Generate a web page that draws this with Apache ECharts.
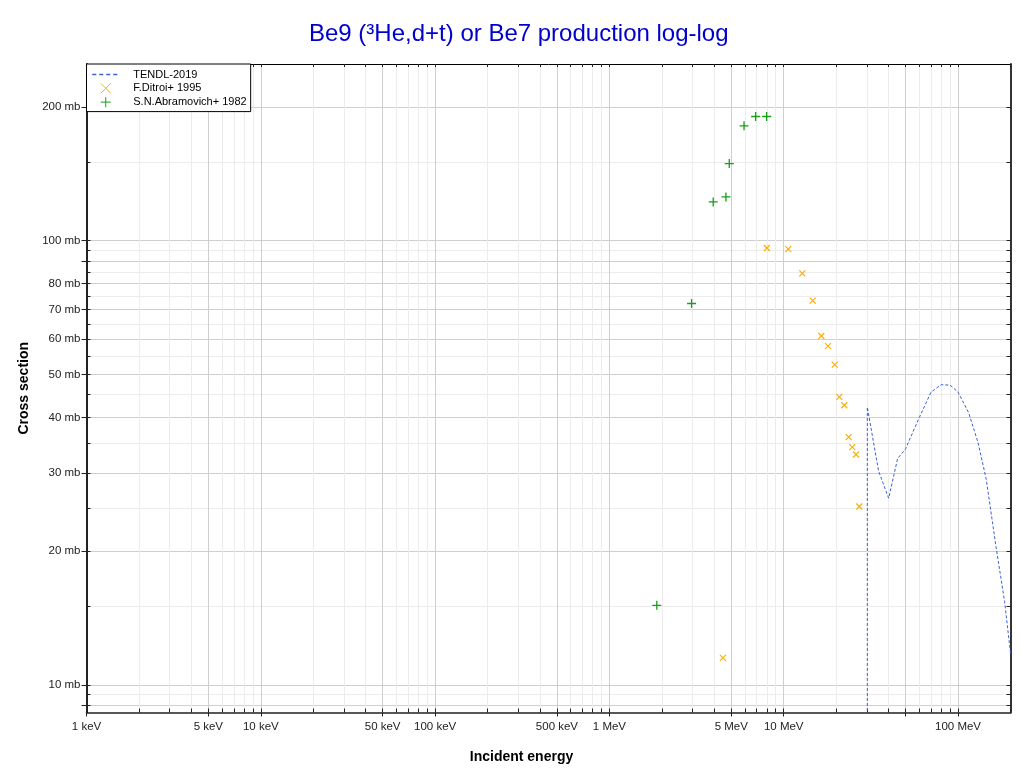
<!DOCTYPE html>
<html><head><meta charset="utf-8">
<script src="https://cdn.jsdelivr.net/npm/echarts@6/dist/echarts.min.js"></script>
<style>html,body{margin:0;padding:0;background:#fff}#c{width:1022px;height:773px}</style>
</head><body><div id="c"></div>
<script>
// ---- data (energy in MeV, cross section in mb) ----
const tendlEnergy = [30.17, 30.17, 35, 40, 45, 50, 60, 70, 80, 90, 100, 115, 130, 145, 165, 185, 200];
const tendlXs     = [0.001, 42.2, 30.3, 26.3, 32.3, 34.0, 40.0, 45.6, 47.4, 47.3, 45.6, 41.0, 35.2, 29.1, 20.5, 15.4, 11.8];

const ditroiEnergy = [4.48, 8.01, 10.62, 12.78, 14.66, 16.43, 17.95, 19.61, 20.84, 22.26, 23.59, 24.74, 25.98, 27.15];
const ditroiXs     = [11.5, 96.3, 95.7, 84.4, 73.3, 61.0, 57.9, 52.6, 44.5, 42.6, 36.1, 34.3, 33.0, 25.2];

const abramEnergy = [1.87, 2.96, 3.94, 4.66, 4.87, 5.92, 6.90, 7.98];
const abramXs     = [15.1, 72.2, 122.3, 125.5, 149.2, 181.4, 190.4, 190.4];

// ---- axis ticks ----
const xMajorTicks = [0.001, 0.005, 0.01, 0.05, 0.1, 0.5, 1, 5, 10, 50, 100];
const xLabelTicks = [0.001, 0.005, 0.01, 0.05, 0.1, 0.5, 1, 5, 10, 100];
const xAllTicks = [];
for (let d = -3; d <= 2; d++) {
  for (let m = 1; m <= 9; m++) {
    const v = parseFloat((m * Math.pow(10, d)).toPrecision(6));
    if (v <= 200) xAllTicks.push(v);
  }
}
const yMajorTicks = [9, 10, 20, 30, 40, 50, 60, 70, 80, 90, 100, 200];
const yLabelTicks = [10, 20, 30, 40, 50, 60, 70, 80, 100, 200];
const yMinorTicks = [9.5, 15, 25, 35, 45, 55, 65, 75, 85, 95, 150];
const yAllTicks = yMajorTicks.concat(yMinorTicks).sort((a, b) => a - b);

const xMin = 0.001, xMax = 200, yMin = 8.66, yMax = 250;
const FONT = '"Liberation Sans", Arial, Helvetica, sans-serif';
const C_TENDL = '#3a5fd9', C_DITROI = '#ffae00', C_ABRAM = '#15a015';

function fmtX(v) {
  if (v < 0.9995) return Math.round(v * 1000) + ' keV';
  return Math.round(v) + ' MeV';
}
function fmtY(v) { return Math.round(v) + ' mb'; }

const zip = (a, b) => a.map((e, i) => [e, b[i]]);

const baseX = {type: 'log', logBase: 10, min: xMin, max: xMax, gridIndex: 0};
const baseY = {type: 'log', logBase: 10, min: yMin, max: yMax, gridIndex: 0};

const chart = echarts.init(document.getElementById('c'), null, {renderer: 'canvas'});
chart.setOption({
  animation: false,
  backgroundColor: '#fff',
  textStyle: {fontFamily: FONT},
  color: [C_TENDL, C_DITROI, C_ABRAM],
  title: {
    text: 'Be9 (³He,d+t) or Be7 production log-log',
    left: 309, top: 22, padding: 0,
    textStyle: {fontSize: 24, fontWeight: 'normal', color: '#0000cd', fontFamily: FONT}
  },
  grid: {left: 86.5, right: 11.5, top: 64, bottom: 60.5, containLabel: false, outerBoundsMode: 'none'},
  legend: {
    orient: 'vertical', left: 86.5, top: 64,
    backgroundColor: '#fff', borderColor: '#000', borderWidth: 1, borderRadius: 0,
    padding: [5, 4, 4, 5], itemWidth: 27, itemHeight: 10, itemGap: 2.8,
    selectedMode: false,
    textStyle: {fontSize: 11, color: '#000', fontFamily: FONT, padding: [0, 0, 0, 9]},
    data: [
      {name: 'TENDL-2019', itemStyle: {opacity: 0}, lineStyle: {color: C_TENDL, width: 1.5, type: [4, 3]}},
      {name: 'F.Ditroi+ 1995', itemStyle: {color: C_DITROI, borderColor: C_DITROI, borderWidth: 1}},
      {name: 'S.N.Abramovich+ 1982', itemStyle: {color: C_ABRAM, borderColor: C_ABRAM, borderWidth: 1}}
    ]
  },
  xAxis: [
    Object.assign({}, baseX, {
      position: 'bottom',
      axisLine: {show: false, onZero: false},
      axisTick: {show: true, inside: true, length: 4, customValues: xAllTicks, lineStyle: {color: '#222', width: 1}},
      axisLabel: {show: false},
      splitLine: {show: true, lineStyle: {color: '#ececec', width: 1}}
    }),
    Object.assign({}, baseX, {
      position: 'bottom',
      axisLine: {show: true, onZero: false, lineStyle: {color: '#222', width: 1.5}},
      axisTick: {show: true, inside: false, length: 4, customValues: xMajorTicks, lineStyle: {color: '#222', width: 1}},
      axisLabel: {show: true, customValues: xLabelTicks, formatter: fmtX, fontSize: 11.5, color: '#222', margin: 8, fontFamily: FONT},
      splitLine: {show: true, lineStyle: {color: '#cfcfcf', width: 1}}
    }),
    Object.assign({}, baseX, {
      position: 'top',
      axisLine: {show: true, onZero: false, lineStyle: {color: '#000', width: 1}},
      axisTick: {show: true, inside: true, length: 3, customValues: xAllTicks, lineStyle: {color: '#222', width: 1}},
      axisLabel: {show: false},
      splitLine: {show: false}
    })
  ],
  yAxis: [
    Object.assign({}, baseY, {
      position: 'left',
      axisLine: {show: false, onZero: false},
      axisTick: {show: true, inside: true, length: 4, customValues: yAllTicks, lineStyle: {color: '#222', width: 1}},
      axisLabel: {show: false},
      splitLine: {show: true, lineStyle: {color: '#ececec', width: 1}}
    }),
    Object.assign({}, baseY, {
      position: 'left',
      axisLine: {show: true, onZero: false, lineStyle: {color: '#222', width: 2}},
      axisTick: {show: true, inside: false, length: 5, customValues: yMajorTicks, lineStyle: {color: '#222', width: 1}},
      axisLabel: {show: true, customValues: yLabelTicks, formatter: fmtY, fontSize: 11.5, color: '#222', margin: 6, fontFamily: FONT},
      splitLine: {show: true, lineStyle: {color: '#cfcfcf', width: 1}},
      name: 'Cross section', nameLocation: 'middle', nameGap: 54,
      nameTextStyle: {fontSize: 14, fontWeight: 'bold', color: '#000', fontFamily: FONT}
    }),
    Object.assign({}, baseY, {
      position: 'right',
      axisLine: {show: true, onZero: false, lineStyle: {color: '#333', width: 2}},
      axisTick: {show: true, inside: true, length: 4, customValues: yAllTicks, lineStyle: {color: '#222', width: 1}},
      axisLabel: {show: false},
      splitLine: {show: false}
    })
  ],
  graphic: [{
    type: 'text', x: 521.5, y: 757, silent: true,
    style: {text: 'Incident energy', fontSize: 14, fontWeight: 'bold', fill: '#000', fontFamily: FONT,
            textAlign: 'center', textVerticalAlign: 'middle'}
  }],
  series: [
    {
      name: 'TENDL-2019', type: 'line', xAxisIndex: 1, yAxisIndex: 1,
      data: zip(tendlEnergy, tendlXs),
      symbol: 'none', showSymbol: false, clip: true, z: 3, silent: true,
      emphasis: {disabled: true},
      lineStyle: {color: C_TENDL, width: 1, type: [3, 2]},
      itemStyle: {color: C_TENDL}
    },
    {
      name: 'F.Ditroi+ 1995', type: 'scatter', xAxisIndex: 1, yAxisIndex: 1,
      data: zip(ditroiEnergy, ditroiXs),
      symbol: 'path://M0,0L10,10M10,0L0,10', symbolSize: 6, z: 4, silent: true,
      emphasis: {disabled: true},
      itemStyle: {color: C_DITROI, borderColor: C_DITROI, borderWidth: 1.2, opacity: 1}
    },
    {
      name: 'S.N.Abramovich+ 1982', type: 'scatter', xAxisIndex: 1, yAxisIndex: 1,
      data: zip(abramEnergy, abramXs),
      symbol: 'path://M0,5L10,5M5,0L5,10', symbolSize: 9, z: 4, silent: true,
      emphasis: {disabled: true},
      itemStyle: {color: C_ABRAM, borderColor: C_ABRAM, borderWidth: 1.3, opacity: 1}
    }
  ]
});
</script>
</body></html>
